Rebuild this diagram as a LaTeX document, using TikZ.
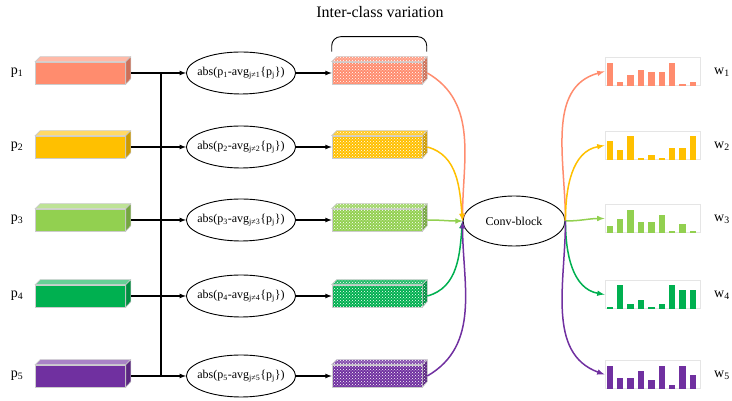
\documentclass[tikz,border=0pt]{standalone}
\usepackage{fontspec}
\setmainfont{Liberation Serif}
\usetikzlibrary{arrows,patterns,shapes.geometric}

\definecolor{cA}{RGB}{255,140,110}
\definecolor{cB}{RGB}{255,192,0}
\definecolor{cC}{RGB}{146,208,80}
\definecolor{cD}{RGB}{0,176,80}
\definecolor{cE}{RGB}{112,48,160}

\begin{document}
\begin{tikzpicture}[x=1pt,y=1pt,line width=1.2pt,
  slab/.style={minimum width=90pt,minimum height=22pt,inner sep=0pt,draw=gray!40,line width=0.6pt},
  hatch/.style={preaction={fill=#1},pattern=crosshatch dots,pattern color=white},
  diff/.style={ellipse,draw,line width=0.9pt,minimum width=108pt,minimum height=42pt,inner xsep=-5pt,inner ysep=0pt,font=\fontsize{12}{14}\selectfont},
  chart/.style={minimum width=95pt,minimum height=28pt,inner sep=0pt,draw=gray!20,line width=1pt},
  lab/.style={font=\fontsize{14}{16}\selectfont}]
\useasboundingbox (0,0) rectangle (732,401);

\node[font=\fontsize{16}{18}\selectfont] (title) at (380,389) {Inter-class variation};
\node[diff,minimum width=102pt,minimum height=50pt,inner xsep=0pt] (conv) at (514,180) {Conv-block};

\foreach \i/\yy/\col/\oa/\ia/\ob/\ib/\hs in {
  1/328/cA/-30/90/90/195/{.83,.16,.41,.57,.49,.49,.83,.08,.16},
  2/254/cB/-15/95/90/190/{.68,.34,.84,.08,.18,.08,.42,.42,.84},
  3/181/cC/0/180/0/180/{.24,.49,.82,.41,.41,.66,.08,.33,.08},
  4/105/cD/15/-95/-90/170/{.08,.85,.17,.33,.08,.17,.85,.68,.68},
  5/25/cE/30/-90/-90/160/{.82,.40,.40,.66,.33,.82,.15,.82,.49}}
{
  \node[lab] (p\i) at (17,\yy) {p\textsubscript{\i}};
  \node[slab,fill=\col] (b\i) at (80.5,\yy) {};
  \draw[gray!40,line width=0.6pt,fill=\col!60] (b\i.north west) -- ++(5,5) -- ++(90,0) -- (b\i.north east) -- cycle;
  \draw[gray!40,line width=0.6pt,fill=\col!80!black] (b\i.north east) -- ++(5,5) -- ++(0,-22) -- (b\i.south east) -- cycle;
  \coordinate (j\i) at (161,\yy);

  \node[diff] (d\i) at (241,\yy) {abs(p\textsubscript{\i}-avg\textsubscript{j≠\i}\{p\textsubscript{j}\})};

  \node[slab,hatch=\col] (h\i) at (377,\yy) {};
  \draw[gray!40,line width=0.6pt,hatch=\col!85] (h\i.north west) -- ++(5,5) -- ++(90,0) -- (h\i.north east) -- cycle;
  \draw[gray!40,line width=0.6pt,hatch=\col!80!black] (h\i.north east) -- ++(5,5) -- ++(0,-22) -- (h\i.south east) -- cycle;

  \node[chart] (w\i) at (652.5,\yy+1.5) {};
  \foreach \h [count=\k] in \hs
    \fill[\col] ([xshift={2+10.4*(\k-1)}]w\i.south west) rectangle ++(6.5,{\h*28});
  \node[lab] (l\i) at (722,\yy+1) {w\textsubscript{\i}};

  \draw[-latex] ([xshift=5pt]b\i.east) -- (d\i);
  \draw[-latex] (d\i) -- (h\i.west);
  \draw[\col,line width=1.5pt,-latex] ([xshift=5pt]h\i.east) to[out=\oa,in=\ia] (conv.west);
  \draw[\col,line width=1.5pt,-latex] (conv.east) to[out=\ob,in=\ib] (w\i.west);
}

\draw (j1) -- (j5);
\draw[line width=0.9pt,rounded corners=9pt] ([yshift=10pt]h1.north west) -- ++(0,15) -- ++(95,0) -- ++(0,-15);
\end{tikzpicture}
\end{document}
